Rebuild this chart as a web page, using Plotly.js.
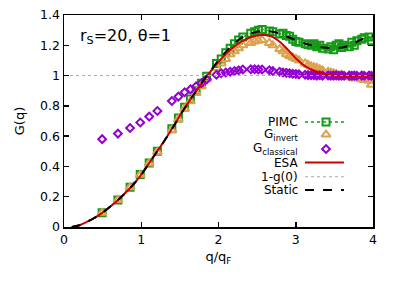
<!DOCTYPE html>
<html>
<head>
<meta charset="utf-8">
<script src="https://cdn.plot.ly/plotly-3.0.1.min.js"></script>
<style>html,body{margin:0;padding:0;background:#fff;}#chart{width:395px;height:286px;}</style>
</head>
<body>
<div id="chart"></div>
<script>
// ---- data ----
var qPoints = [0.494,0.698,0.855,0.987,1.103,1.209,1.396,1.481,1.561,1.637,1.710,1.779,1.847,1.974,2.035,2.094,2.151,2.207,2.261,2.315,2.418,2.468,2.516,2.564,2.658,2.703,2.792,2.835,2.878,2.920,2.961,3.002,3.042,3.121,3.160,3.198,3.236,3.273,3.311,3.347,3.419,3.455,3.490,3.524,3.559,3.593,3.626,3.693,3.726,3.758,3.791,3.854,3.886,3.948,3.979];
var gPIMC = [0.094,0.178,0.262,0.347,0.423,0.500,0.648,0.720,0.790,0.845,0.900,0.950,0.995,1.080,1.110,1.150,1.180,1.210,1.235,1.255,1.280,1.290,1.300,1.305,1.295,1.290,1.275,1.280,1.265,1.260,1.240,1.225,1.220,1.210,1.205,1.200,1.210,1.190,1.200,1.180,1.175,1.190,1.170,1.200,1.210,1.185,1.200,1.190,1.220,1.200,1.230,1.240,1.250,1.255,1.230];
var gInvert = [0.094,0.178,0.262,0.345,0.420,0.495,0.640,0.710,0.780,0.830,0.885,0.930,0.975,1.050,1.080,1.110,1.140,1.160,1.180,1.200,1.215,1.225,1.230,1.235,1.215,1.200,1.175,1.160,1.140,1.130,1.120,1.110,1.100,1.080,1.070,1.060,1.055,1.050,1.040,1.035,1.025,1.020,1.015,1.010,1.000,1.005,0.995,0.990,0.985,0.980,0.985,0.975,0.970,0.965,0.940];
var gClassical = [0.580,0.617,0.654,0.690,0.729,0.766,0.832,0.861,0.890,0.909,0.929,0.950,0.975,1.005,1.015,1.020,1.025,1.030,1.035,1.040,1.042,1.042,1.040,1.040,1.035,1.030,1.025,1.020,1.018,1.015,1.012,1.010,1.008,1.005,1.003,1.002,1.003,1.000,1.002,1.000,1.001,0.999,1.000,1.001,0.999,1.000,0.999,1.000,0.999,1.000,0.999,1.000,0.999,1.000,0.999];
var qCurve = [0.1,0.2,0.3,0.4,0.5,0.6,0.7,0.8,0.9,1.0,1.1,1.2,1.3,1.4,1.5,1.6,1.7,1.8,1.9,2.0,2.1,2.2,2.3,2.4,2.5,2.6,2.7,2.8,2.9,3.0,3.1,3.2,3.3,3.4,3.5,3.6,3.7,3.8,3.9,4.0];
var gESA = [0.0,0.012,0.035,0.062,0.095,0.135,0.178,0.228,0.282,0.345,0.420,0.495,0.570,0.650,0.735,0.815,0.890,0.960,1.030,1.090,1.145,1.190,1.225,1.250,1.265,1.268,1.255,1.220,1.170,1.115,1.070,1.040,1.020,1.008,1.000,0.998,0.997,0.998,0.999,1.000];
var gStatic = [0.0,0.012,0.035,0.062,0.095,0.135,0.178,0.228,0.282,0.345,0.420,0.495,0.570,0.650,0.735,0.815,0.890,0.965,1.035,1.100,1.160,1.210,1.250,1.275,1.290,1.295,1.290,1.275,1.255,1.235,1.215,1.200,1.190,1.183,1.180,1.185,1.200,1.225,1.250,1.265];
var qG0 = [0, 4];
var gG0 = [1.0, 1.0];
var xTicks = [0,1,2,3,4];
var yTicks = [0,0.2,0.4,0.6,0.8,1,1.2,1.4];
var legendLabels = ['PIMC','G<sub>invert</sub>','G<sub>classical</sub>','ESA','1-g(0)','Static'];

// ---- styles ----
var cGreen = '#159a15', cOrange = '#dca24e', cPurple = '#9400d3', cRed = '#cc0000', cGray = '#a8a8a8';
var FONT = 'DejaVu Sans, sans-serif';

var traces = [
  {x: qPoints, y: gPIMC, mode: 'lines+markers', line: {color: cGreen, width: 1.5, dash: 'dot'},
   marker: {symbol: 'square-open', size: 7, color: cGreen, line: {width: 2, color: cGreen}}},
  {x: qPoints, y: gInvert, mode: 'markers',
   marker: {symbol: 'triangle-up-open', size: 8, color: cOrange, line: {width: 2, color: cOrange}}},
  {x: qPoints, y: gClassical, mode: 'markers',
   marker: {symbol: 'diamond-open', size: 6, color: cPurple, line: {width: 2, color: cPurple}}},
  {x: qCurve, y: gESA, mode: 'lines', line: {color: cRed, width: 2, shape: 'spline'}},
  {x: qG0, y: gG0, mode: 'lines', line: {color: cGray, width: 1, dash: 'dot'}},
  {x: qCurve, y: gStatic, mode: 'lines', line: {color: '#000', width: 2, dash: 'dash', shape: 'spline'}}
];

// legend samples drawn on an overlay axis (fractions of the plot area)
var legY = [0.495, 0.436, 0.368, 0.304, 0.237, 0.175];
var sx0 = 0.780, sx1 = 0.906, sxm = 0.848;
function legLine(y, line){ return {x:[sx0,sx1], y:[y,y], mode:'lines', line: line, xaxis:'x2', yaxis:'y2', hoverinfo:'skip'}; }
function legMark(y, marker){ return {x:[sxm], y:[y], mode:'markers', marker: marker, xaxis:'x2', yaxis:'y2', hoverinfo:'skip'}; }
traces.push(legLine(legY[0], {color: cGreen, width: 1.5, dash: 'dot'}));
traces.push(legMark(legY[0], traces[0].marker));
traces.push(legMark(legY[1], traces[1].marker));
traces.push(legMark(legY[2], traces[2].marker));
traces.push(legLine(legY[3], {color: cRed, width: 2}));
traces.push(legLine(legY[4], {color: cGray, width: 1, dash: 'dot'}));
traces.push(legLine(legY[5], {color: '#000', width: 2, dash: 'dash'}));
traces.forEach(function(t){ t.showlegend = false; });

var annotations = legendLabels.map(function(t, i){
  return {text: t, xref: 'paper', yref: 'paper', x: 0.762, y: legY[i], xanchor: 'right', yanchor: 'middle',
          showarrow: false, borderpad: 0, font: {family: FONT, size: 12, color: '#000'}};
});
annotations.push({text: 'r<sub>S</sub>=20, θ=1', xref: 'paper', yref: 'paper', x: 0.045, y: 0.90,
  xanchor: 'left', yanchor: 'middle', showarrow: false, font: {family: FONT, size: 16, color: '#000'}});

var axisBase = {showgrid: false, zeroline: false, showline: true, linecolor: '#000', linewidth: 1.5,
  mirror: 'ticks', ticks: 'inside', ticklen: 5, tickwidth: 1.5, tickcolor: '#000',
  tickfont: {family: FONT, size: 12.5, color: '#000'}};

var layout = {
  width: 395, height: 286,
  margin: {l: 64, r: 22, t: 15, b: 59},
  paper_bgcolor: '#fff', plot_bgcolor: '#fff',
  showlegend: false,
  xaxis: Object.assign({}, axisBase, {range: [0, 4], tickvals: xTicks,
    title: {text: 'q/q<sub>F</sub>', font: {family: FONT, size: 13, color: '#000'}, standoff: 6}}),
  yaxis: Object.assign({}, axisBase, {range: [0, 1.4], tickvals: yTicks,
    title: {text: 'G(q)', font: {family: FONT, size: 13, color: '#000'}, standoff: 12}}),
  xaxis2: {overlaying: 'x', anchor: 'y2', range: [0, 1], visible: false},
  yaxis2: {overlaying: 'y', anchor: 'x2', range: [0, 1], visible: false},
  annotations: annotations
};

Plotly.newPlot('chart', traces, layout, {displayModeBar: false, staticPlot: true});
</script>
</body>
</html>
